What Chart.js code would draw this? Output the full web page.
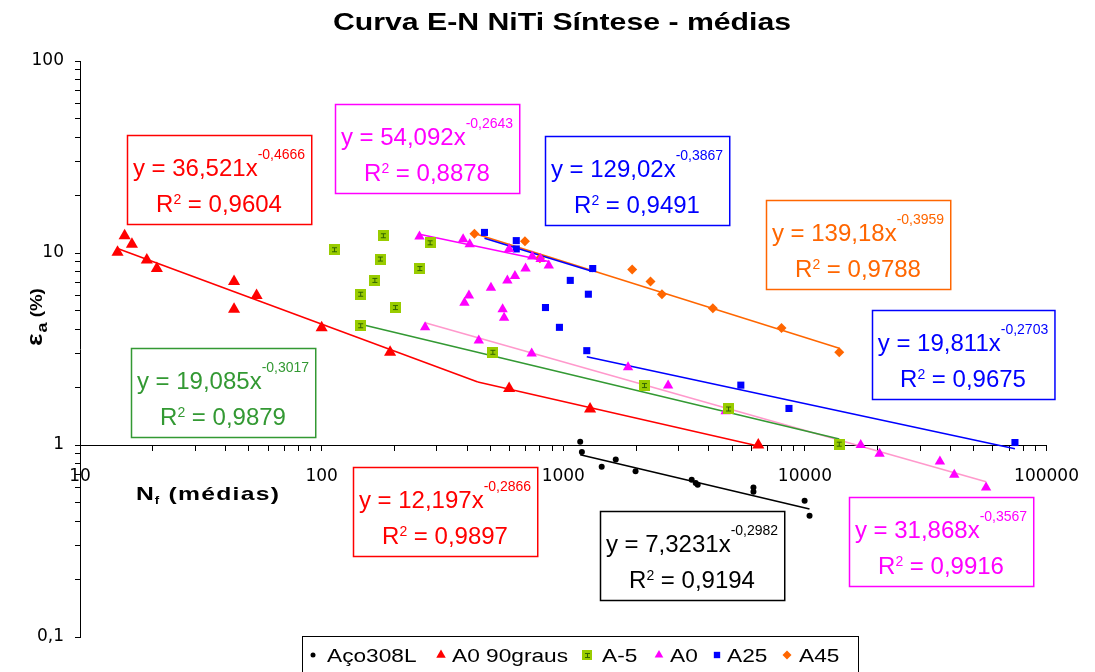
<!DOCTYPE html>
<html>
<head>
<meta charset="utf-8">
<script src="https://cdn.jsdelivr.net/npm/chart.js@4.4.1/dist/chart.umd.min.js"></script>
<style>
  html, body { margin: 0; padding: 0; background: #fff; }
  canvas { display: block; }
</style>
</head>
<body>
<canvas id="chart" width="1095" height="672"></canvas>
<script>
// Strain amplitude (%) vs. mean cycles to failure N_f, one pair of arrays per material
const aco308L_N = [1175, 1194, 1442, 1649, 1991, 3400, 3532, 3600, 6124, 6124, 9970, 10450];
const aco308L_E = [1.04, 0.92, 0.77, 0.84, 0.73, 0.66, 0.634, 0.62, 0.60, 0.57, 0.513, 0.428];

const a0_90_N = [14.3, 15.3, 16.4, 18.9, 20.8, 43.4, 43.4, 53.8, 100, 192, 597, 1291, 6412];
const a0_90_E = [10.1, 12.3, 11.1, 9.2, 8.3, 7.1, 5.1, 6.0, 4.08, 3.04, 1.97, 1.54, 1.0];

const aM5_N = [113, 180, 281, 175, 255, 166, 145, 202, 145, 511, 2168, 4830, 13870];
const aM5_E = [10.4, 12.3, 11.3, 9.3, 8.3, 7.2, 6.1, 5.2, 4.18, 3.04, 2.04, 1.54, 1.01];

const a0_N = [254, 385, 410, 597, 744, 806, 871, 698, 631, 587, 502, 407, 390, 561, 569,
              268, 447, 740, 1854, 2716, 4700, 17020, 20370, 36200, 41500, 56200];
const a0_E = [12.2, 11.8, 11.1, 10.5, 9.6, 9.3, 8.6, 8.3, 7.6, 7.2, 6.6, 6.0, 5.5, 5.1, 4.6,
              4.1, 3.5, 3.0, 2.54, 2.04, 1.5, 1.0, 0.90, 0.82, 0.70, 0.60];

const a25_N = [472, 639, 639, 1324, 1069, 1270, 844, 964, 1251, 5430, 8590, 74000];
const a25_E = [12.8, 11.6, 10.5, 8.3, 7.2, 6.1, 5.2, 4.1, 3.1, 2.05, 1.55, 1.03];

const a45_N = [429, 694, 800, 1928, 2296, 2561, 4159, 8000, 13870];
const a45_E = [12.6, 11.5, 9.4, 8.2, 7.1, 6.1, 5.15, 4.07, 3.04];

const seriesNames = ['Aço308L', 'A0 90graus', 'A-5', 'A0', 'A25', 'A45'];

// Power-law trendlines y = a·x^b with their R², and the N_f range each one covers
const fitA    = [36.521, 12.197, 19.085, 54.092, 31.868, 129.02, 19.811, 139.18, 7.3231];
const fitB    = [-0.4666, -0.2866, -0.3017, -0.2643, -0.3567, -0.3867, -0.2703, -0.3959, -0.2982];
const fitR2   = [0.9604, 0.9897, 0.9879, 0.8878, 0.9916, 0.9491, 0.9675, 0.9788, 0.9194];
const fitFrom = [14.3, 443, 145, 254, 268, 472, 1251, 429, 1175];
const fitTo   = [443, 6412, 13870, 871, 56200, 1324, 74000, 13870, 10450];

// Axis decades and their printed labels
const xDecades = [10, 100, 1000, 10000, 100000];
const xTickLabels = ['10', '100', '1000', '10000', '100000'];
const yDecades = [0.1, 1, 10, 100];
const yTickLabels = ['0,1', '1', '10', '100'];

// ---- styling ----
const RED = '#FF0000', GREEN = '#339933', MAGENTA = '#FF00FF', PINK = '#FF99CC',
      BLUE = '#0000FF', ORANGE = '#FF6600', BLACK = '#000000';
const fitLineColors = [RED, RED, GREEN, MAGENTA, PINK, BLUE, BLUE, ORANGE, BLACK];
const fitBoxColors  = [RED, RED, GREEN, MAGENTA, MAGENTA, BLUE, BLUE, ORANGE, BLACK];
// equation box: centre x, top y
const fitBoxPlace = [[219, 135], [445, 467], [223, 348], [427, 104], [941, 497],
                     [637, 136], [963, 310], [858, 200], [692, 511]];

// yellow-green square marker with a small dark "I" in the middle
function makeGreenMarker(size) {
  const c = document.createElement('canvas');
  c.width = size; c.height = size;
  const g = c.getContext('2d');
  g.fillStyle = '#99CC00';
  g.fillRect(0, 0, size, size);
  g.fillStyle = '#336600';
  const m = Math.floor(size / 2);
  g.fillRect(m - 2, m - 2, 5, 1);
  g.fillRect(m, m - 2, 1, 5);
  g.fillRect(m - 2, m + 2, 5, 1);
  return c;
}
const greenMarker = makeGreenMarker(11);
const greenMarkerSmall = makeGreenMarker(10);

const toPts = (xs, ys) => xs.map((x, i) => ({ x, y: ys[i] }));
const fitPts = (i) => [fitFrom[i], fitTo[i]].map(x => ({ x, y: fitA[i] * Math.pow(x, fitB[i]) }));
const fmt = (v) => String(v).replace('.', ',');

const markerStyles = [
  { pointStyle: 'circle',   pointRadius: 3,   color: BLACK },
  { pointStyle: 'triangle', pointRadius: 7,   color: RED },
  { pointStyle: greenMarker, pointRadius: 6,  color: '#99CC00' },
  { pointStyle: 'triangle', pointRadius: 6,   color: MAGENTA },
  { pointStyle: 'rect',     pointRadius: 5,   color: BLUE },
  { pointStyle: 'rectRot',  pointRadius: 5,   color: ORANGE }
];
const seriesData = [
  toPts(aco308L_N, aco308L_E), toPts(a0_90_N, a0_90_E), toPts(aM5_N, aM5_E),
  toPts(a0_N, a0_E), toPts(a25_N, a25_E), toPts(a45_N, a45_E)
];

const datasets = [];
seriesNames.forEach((name, i) => {
  const st = markerStyles[i];
  datasets.push({
    label: name, data: seriesData[i], showLine: false,
    pointStyle: st.pointStyle, pointRadius: st.pointRadius,
    backgroundColor: st.color, borderColor: st.color, borderWidth: 0,
    order: 0, clip: false
  });
});
fitA.forEach((a, i) => {
  datasets.push({
    label: 'fit' + i, data: fitPts(i), showLine: true, pointRadius: 0,
    borderColor: fitLineColors[i], borderWidth: 1.6, backgroundColor: fitLineColors[i],
    order: 1, clip: false
  });
});

function logTicks(lo, hi) {
  const out = [];
  for (let e = Math.round(Math.log10(lo)); e < Math.round(Math.log10(hi)); e++) {
    for (let m = 1; m < 10; m++) out.push(+(m * Math.pow(10, e)).toPrecision(6));
  }
  out.push(hi);
  return out.map(v => ({ value: v }));
}

const SANS = '"Liberation Sans", Arial, sans-serif';

function stretchText(ctx, text, x, y, font, sx, align) {
  ctx.save();
  ctx.font = font;
  const w = ctx.measureText(text).width * sx;
  const x0 = align === 'center' ? x - w / 2 : (align === 'right' ? x - w : x);
  ctx.translate(x0, y);
  ctx.scale(sx, 1);
  ctx.textAlign = 'left';
  ctx.textBaseline = 'alphabetic';
  ctx.fillText(text, 0, 0);
  ctx.restore();
  return w;
}

function drawFitBox(ctx, i) {
  const [cx, top] = fitBoxPlace[i];
  const col = fitBoxColors[i];
  const big = '24px ' + SANS, small = '14px ' + SANS;
  const l1 = 'y = ' + fmt(fitA[i]) + 'x', l1s = fmt(fitB[i]);
  const l2 = 'R', l2s = '2', l2b = ' = ' + fmt(fitR2[i]);
  ctx.save();
  ctx.font = big;
  const w1a = ctx.measureText(l1).width, w2a = ctx.measureText(l2).width, w2c = ctx.measureText(l2b).width;
  ctx.font = small;
  const w1b = ctx.measureText(l1s).width, w2b = ctx.measureText(l2s).width;
  const w1 = w1a + w1b, w2 = w2a + w2b + w2c;
  const bw = Math.max(w1, w2) + 12, bh = 89;
  const left = Math.round(cx - bw / 2) + 0.5;
  ctx.fillStyle = '#fff';
  ctx.fillRect(left, top + 0.5, bw, bh);
  ctx.strokeStyle = col;
  ctx.lineWidth = 1.5;
  ctx.strokeRect(left, top + 0.5, bw, bh);
  ctx.fillStyle = col;
  ctx.textBaseline = 'alphabetic';
  ctx.textAlign = 'left';
  let x = cx - w1 / 2;
  ctx.font = big;  ctx.fillText(l1, x, top + 41);
  ctx.font = small; ctx.fillText(l1s, x + w1a, top + 24);
  x = cx - w2 / 2;
  ctx.font = big;  ctx.fillText(l2, x, top + 77);
  ctx.font = small; ctx.fillText(l2s, x + w2a, top + 69);
  ctx.font = big;  ctx.fillText(l2b, x + w2a + w2b, top + 77);
  ctx.restore();
}

// legend: marker centre x, text x
const legendPlace = [[313, 327], [441, 452], [587, 602], [659, 670], [717, 727], [787, 799]];
const legendMarkerRadius = [2.5, 5.5, 5, 5, 4.5, 4.5];

const decorPlugin = {
  id: 'decor',
  afterDraw(chart) {
    const ctx = chart.ctx;
    ctx.save();
    // title
    ctx.fillStyle = '#000';
    stretchText(ctx, 'Curva E-N NiTi Síntese - médias', 562, 30, 'bold 24px ' + SANS, 1.26, 'center');

    // x axis title N_f (médias)
    let x = 136;
    x += stretchText(ctx, 'N', x, 500, 'bold 19px ' + SANS, 1.3, 'left');
    x += stretchText(ctx, 'f', x + 1, 504, 'bold 11px ' + SANS, 1.2, 'left') + 2;
    ctx.save(); ctx.letterSpacing = '1px';
    stretchText(ctx, ' (médias)', x, 500, 'bold 19px ' + SANS, 1.3, 'left');
    ctx.restore();

    // y axis title εa (%)
    ctx.save();
    ctx.translate(42, 346);
    ctx.rotate(-Math.PI / 2);
    let yx = 0;
    yx += stretchText(ctx, 'ε', yx, 0, 'bold 22px ' + SANS, 1.2, 'left');
    yx += stretchText(ctx, 'a', yx + 1, 5, 'bold 15px ' + SANS, 1.2, 'left') + 1;
    stretchText(ctx, ' (%)', yx, 0, 'bold 17px ' + SANS, 1.1, 'left');
    ctx.restore();

    // trendline equation boxes
    fitA.forEach((a, i) => drawFitBox(ctx, i));

    // legend
    ctx.fillStyle = '#fff';
    ctx.fillRect(302.5, 636.5, 556, 40);
    ctx.strokeStyle = '#000';
    ctx.lineWidth = 1;
    ctx.strokeRect(302.5, 636.5, 556, 40);
    seriesNames.forEach((name, i) => {
      const [mx, tx] = legendPlace[i];
      const st = markerStyles[i];
      ctx.fillStyle = st.color;
      ctx.strokeStyle = st.color;
      Chart.helpers.drawPoint(ctx, {
        pointStyle: i === 2 ? greenMarkerSmall : st.pointStyle,
        radius: legendMarkerRadius[i], rotation: 0, borderWidth: 0
      }, mx, 655);
      ctx.fillStyle = '#000';
      stretchText(ctx, name, tx, 662, '18px ' + SANS, 1.26, 'left');
    });
    ctx.restore();
  }
};

const axisGrid = { display: true, drawOnChartArea: false, drawTicks: true, tickLength: 5, color: '#000', lineWidth: 1 };
const tickFont = { family: '"DejaVu Sans", sans-serif', size: 17 };

new Chart(document.getElementById('chart').getContext('2d'), {
  type: 'scatter',
  data: { datasets },
  options: {
    responsive: false,
    animation: false,
    layout: { padding: { top: 61, right: 39, bottom: 35, left: 0 } },
    plugins: { legend: { display: false }, title: { display: false }, tooltip: { enabled: false } },
    scales: {
      x: {
        type: 'logarithmic', min: 10, max: 100000,
        position: { y: 1 },
        grid: axisGrid,
        border: { display: true, color: '#000', width: 1 },
        afterBuildTicks: (s) => { s.ticks = logTicks(10, 100000); },
        afterFit: (s) => { s.height = 0; },
        ticks: {
          autoSkip: false, maxRotation: 0, color: '#000', font: tickFont, padding: 16,
          callback: (v) => { const k = xDecades.indexOf(v); return k >= 0 ? xTickLabels[k] : ''; }
        }
      },
      y: {
        type: 'logarithmic', min: 0.1, max: 100,
        position: 'left',
        grid: axisGrid,
        border: { display: true, color: '#000', width: 1 },
        afterBuildTicks: (s) => { s.ticks = logTicks(0.1, 100); },
        afterFit: (s) => { s.width = 80; },
        ticks: {
          autoSkip: false, color: '#000', font: tickFont, padding: 11,
          callback: (v) => { const k = yDecades.indexOf(v); return k >= 0 ? yTickLabels[k] : ''; }
        }
      }
    }
  },
  plugins: [decorPlugin]
});
</script>
</body>
</html>
